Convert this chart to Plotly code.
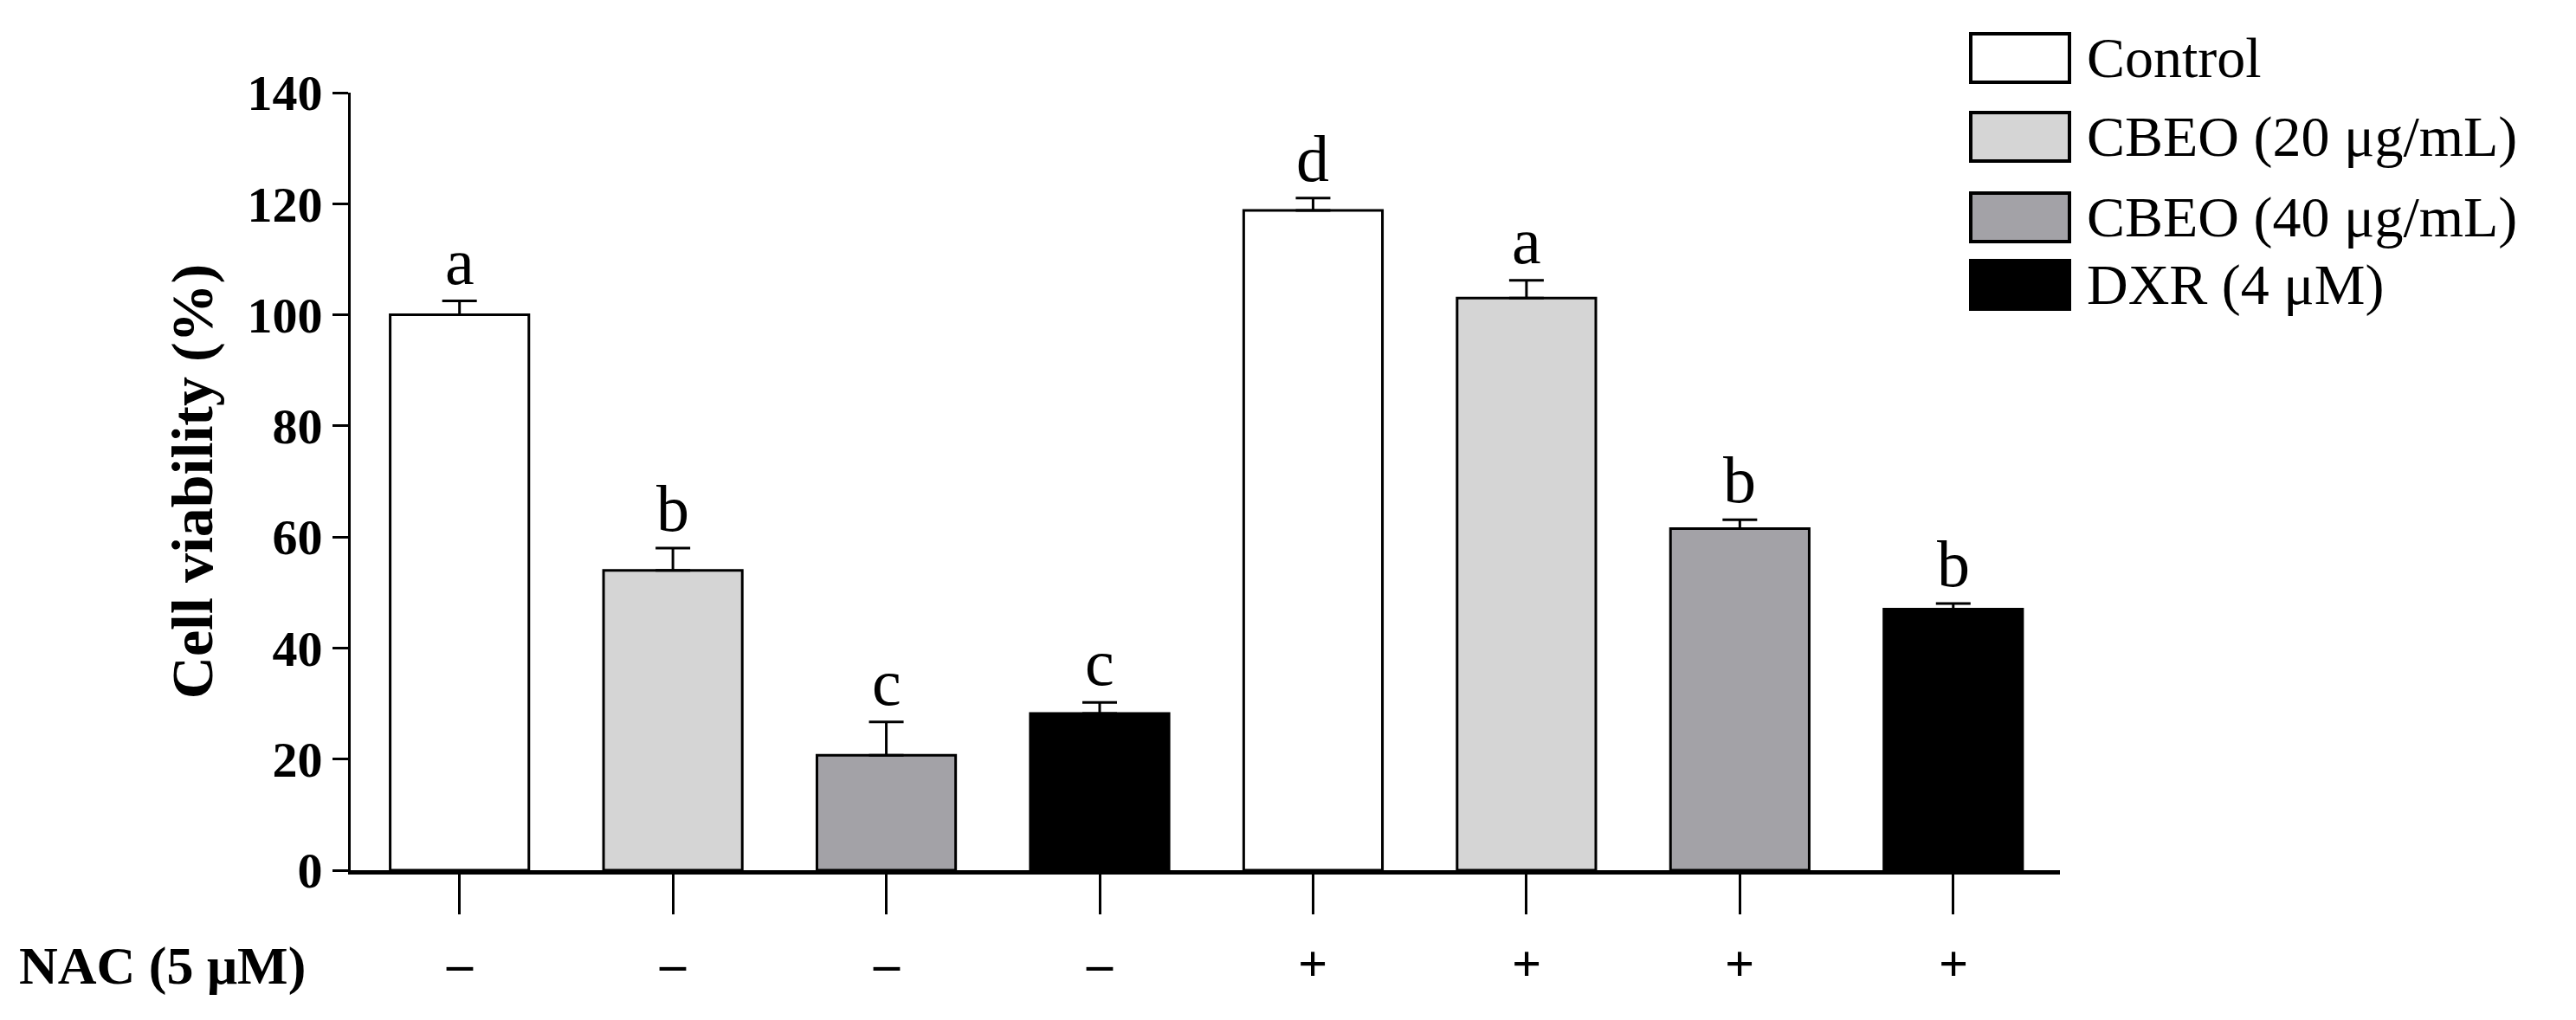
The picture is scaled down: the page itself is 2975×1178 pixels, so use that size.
import plotly.graph_objects as go

groups = ["Control", "CBEO (20 μg/mL)", "CBEO (40 μg/mL)", "DXR (4 μM)"]
colors = ["#ffffff", "#d5d5d5", "#a3a2a7", "#000000"]
values = [100.0, 54.0, 20.7, 28.2, 118.8, 103.0, 61.5, 47.0]
errors = [2.5, 4.0, 6.0, 2.0, 2.2, 3.2, 1.6, 1.0]
letters = ["a", "b", "c", "c", "d", "a", "b", "b"]
nac = ["–", "–", "–", "–", "+", "+", "+", "+"]
positions = [1, 2, 3, 4, 5, 6, 7, 8]

FONT = "Liberation Serif"
fig = go.Figure()
fig.add_trace(go.Bar(
    x=positions, y=values,
    marker=dict(color=[colors[i % 4] for i in range(8)], line=dict(color="black", width=3)),
    error_y=dict(type="data", symmetric=False, array=errors, arrayminus=[0] * 8,
                 color="black", thickness=3, width=20),
    showlegend=False,
))

for x, v, e, l in zip(positions, values, errors, letters):
    fig.add_annotation(x=x, y=v + e, text=l, showarrow=False, yanchor="bottom", yshift=2,
                       font=dict(family=FONT, size=76, color="black"))
for x, s in zip(positions, nac):
    fig.add_annotation(x=x, y=0, yref="y", text="<b>" + s + "</b>", showarrow=False, yshift=-108,
                       font=dict(family=FONT, size=60, color="black"))
fig.add_annotation(xref="paper", yref="y", x=-0.195, y=0, text="<b>NAC (5 μM)</b>", showarrow=False,
                   xanchor="left", yshift=-110, font=dict(family=FONT, size=62, color="black"))

# legend drawn manually to match the large boxes
row_y = [1119, 1028, 935, 857]
for i, (g, c) in enumerate(zip(groups, colors)):
    yc = row_y[i]
    fig.add_shape(type="rect", xref="paper", yref="paper",
                  x0=1.0 + (2268 - 2371) / 1974, x1=1.0 + (2382 - 2371) / 1974,
                  y0=(yc - 181 - 28) / 898, y1=(yc - 181 + 28) / 898,
                  fillcolor=c, line=dict(color="black", width=4))
    fig.add_annotation(xref="paper", yref="paper", x=1.0 + (2400 - 2371) / 1974,
                       y=(yc - 181) / 898, text=g, showarrow=False,
                       xanchor="left", yanchor="middle",
                       font=dict(family=FONT, size=66, color="black"))

fig.update_xaxes(range=[0.49, 8.5], tickvals=positions, ticktext=[""] * 8, ticks="outside",
                 ticklen=46, tickwidth=3, tickcolor="black", showline=True, linewidth=5,
                 linecolor="black", showgrid=False, zeroline=False)
fig.update_yaxes(range=[0, 140], dtick=20, ticks="outside", ticklen=18, tickwidth=3,
                 tickcolor="black", showline=True, linewidth=3, linecolor="black",
                 showgrid=False, zeroline=False, tickprefix="<b>", ticksuffix="</b>",
                 tickfont=dict(family=FONT, size=58, color="black"),
                 title=dict(text="<b>Cell viability (%)</b>", font=dict(family=FONT, size=68, color="black"),
                            standoff=18))
fig.update_layout(width=2975, height=1178, bargap=0.35, plot_bgcolor="white", paper_bgcolor="white",
                  margin=dict(l=397, r=604, t=99, b=181))
fig.write_html("out.html")
